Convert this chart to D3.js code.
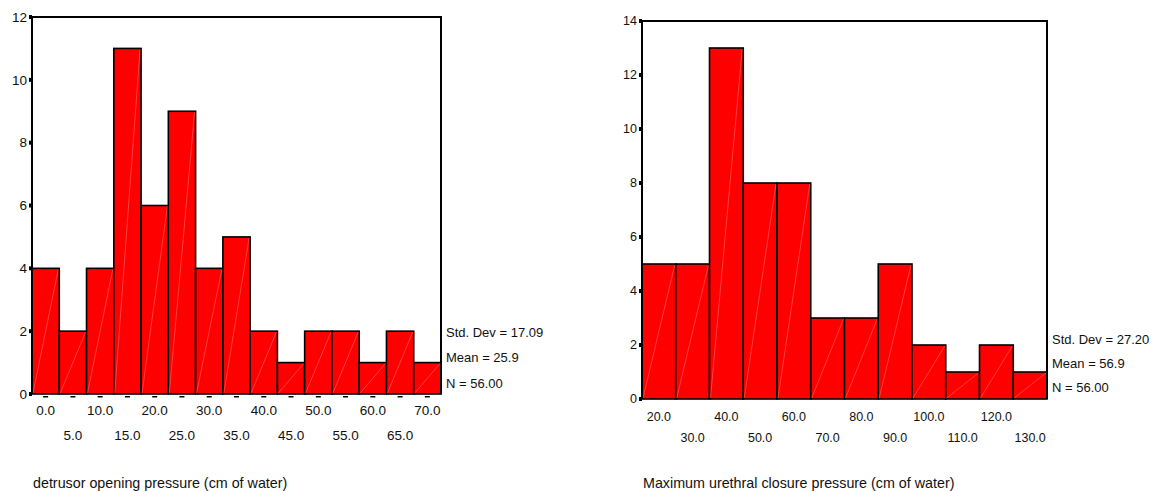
<!DOCTYPE html>
<html>
<head>
<meta charset="utf-8">
<script src="https://cdn.jsdelivr.net/npm/d3@7"></script>
<style>
  body { margin: 0; background: #fff; }
  text { font-family: Arial, "Liberation Sans", sans-serif; fill: #111; }
</style>
</head>
<body>
<div id="chart"></div>
<script>
// Left histogram: detrusor opening pressure
const leftBins = [0, 5, 10, 15, 20, 25, 30, 35, 40, 45, 50, 55, 60, 65, 70];
const leftCounts = [4, 2, 4, 11, 6, 9, 4, 5, 2, 1, 2, 2, 1, 2, 1];
const leftYTicks = [0, 2, 4, 6, 8, 10, 12];
const leftStats = ["Std. Dev = 17.09", "Mean = 25.9", "N = 56.00"];
const leftTitle = "detrusor opening pressure (cm of water)";

// Right histogram: maximum urethral closure pressure
const rightBins = [20, 30, 40, 50, 60, 70, 80, 90, 100, 110, 120, 130];
const rightCounts = [5, 5, 13, 8, 8, 3, 3, 5, 2, 1, 2, 1];
const rightYTicks = [0, 2, 4, 6, 8, 10, 12, 14];
const rightStats = ["Std. Dev = 27.20", "Mean = 56.9", "N = 56.00"];
const rightTitle = "Maximum urethral closure pressure (cm of water)";

const svg = d3.select("#chart")
    .append("svg")
    .attr("width", 1161)
    .attr("height", 491);

function histogram(opts) {
    let g = svg.append("g");
    let step = opts.bins[1] - opts.bins[0];
    let x = d3.scaleLinear()
        .domain([opts.bins[0] - step / 2, opts.bins[opts.bins.length - 1] + step / 2])
        .range([opts.left, opts.right]);
    let y = d3.scaleLinear()
        .domain([0, opts.yMax])
        .range([opts.bottom, opts.top]);

    let data = opts.bins.map((b, i) => ({ bin: b, count: opts.counts[i] }));

    // bars
    g.selectAll(".bar")
        .data(data)
        .enter()
        .append("rect")
        .attr("class", "bar")
        .attr("x", d => x(d.bin - step / 2))
        .attr("y", d => y(d.count))
        .attr("width", d => x(d.bin + step / 2) - x(d.bin - step / 2))
        .attr("height", d => y(0) - y(d.count))
        .attr("fill", "#ff0000")
        .attr("stroke", "#000")
        .attr("stroke-width", 1.6);

    // faint diagonal streak inside each bar
    g.selectAll(".streak")
        .data(data)
        .enter()
        .append("line")
        .attr("x1", d => x(d.bin - step / 2) + 1)
        .attr("y1", y(0) - 1)
        .attr("x2", d => x(d.bin + step / 2) - 1)
        .attr("y2", d => y(d.count) + 1)
        .attr("stroke", "#ffb0b0")
        .attr("stroke-width", 0.6)
        .attr("opacity", 0.6);

    // frame: left, top, right
    g.append("path")
        .attr("d", `M${opts.left},${opts.bottom}V${opts.top}H${opts.right}V${opts.bottom}`)
        .attr("fill", "none")
        .attr("stroke", "#000")
        .attr("stroke-width", 2);

    // y ticks
    let yAxis = g.append("g");
    yAxis.selectAll("rect")
        .data(opts.yTicks)
        .enter()
        .append("rect")
        .attr("x", opts.left - 3)
        .attr("y", d => y(d) - 2)
        .attr("width", 3)
        .attr("height", 4)
        .attr("fill", "#000");
    yAxis.selectAll("text")
        .data(opts.yTicks)
        .enter()
        .append("text")
        .attr("x", opts.left - 5)
        .attr("y", d => y(d))
        .attr("dy", "0.35em")
        .attr("text-anchor", "end")
        .attr("font-size", opts.yFont)
        .text(d => d);

    // x tick dashes
    if (opts.dashes) {
        g.selectAll(".dash")
            .data(opts.bins)
            .enter()
            .append("rect")
            .attr("x", d => x(d) - 2.5)
            .attr("y", opts.bottom + 2)
            .attr("width", 5)
            .attr("height", 1.5)
            .attr("fill", "#000");
    }

    // x labels, staggered on two rows
    g.selectAll(".xlab")
        .data(opts.bins)
        .enter()
        .append("text")
        .attr("x", d => x(d))
        .attr("y", (d, i) => i % 2 === 0 ? opts.row1 : opts.row2)
        .attr("text-anchor", "middle")
        .attr("font-size", opts.xFont)
        .text(d => d.toFixed(1));

    // stats
    g.selectAll(".stat")
        .data(opts.stats)
        .enter()
        .append("text")
        .attr("x", opts.right + 5)
        .attr("y", (d, i) => opts.statY + i * opts.statGap)
        .attr("dy", "0.35em")
        .attr("font-size", 13)
        .text(d => d);

    g.append("text")
        .attr("x", opts.left + 1)
        .attr("y", 488)
        .attr("font-size", 14.3)
        .text(opts.title);
}

histogram({
    bins: leftBins, counts: leftCounts, yTicks: leftYTicks, yMax: 12,
    stats: leftStats, title: leftTitle,
    left: 32, right: 441, top: 17, bottom: 394,
    row1: 415, row2: 440, yFont: 13.5, xFont: 13.5, dashes: true,
    statY: 332, statGap: 25.5
});

histogram({
    bins: rightBins, counts: rightCounts, yTicks: rightYTicks, yMax: 14,
    stats: rightStats, title: rightTitle,
    left: 642, right: 1047, top: 21, bottom: 399,
    row1: 421, row2: 442, yFont: 12.5, xFont: 12.5, dashes: false,
    statY: 339, statGap: 24
});
</script>
</body>
</html>
